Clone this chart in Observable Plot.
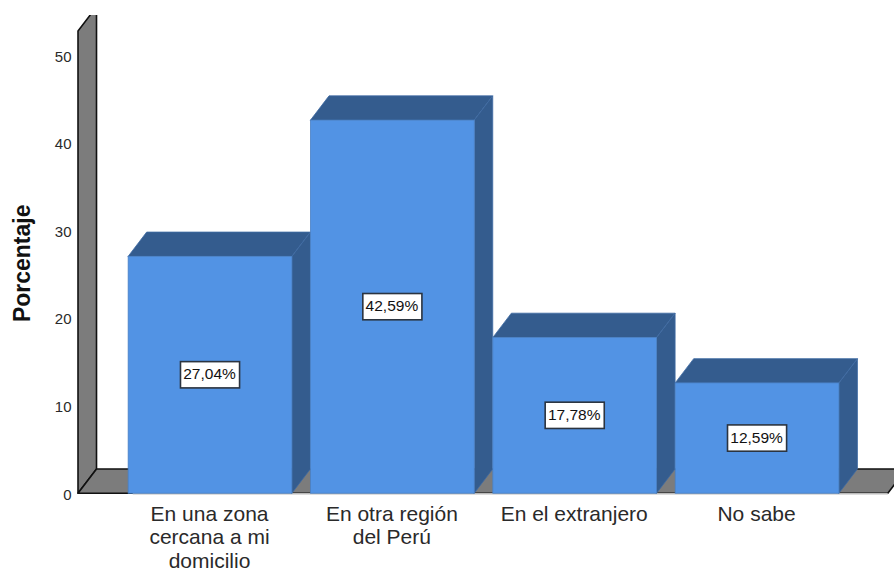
<!DOCTYPE html>
<html>
<head>
<meta charset="utf-8">
<script src="https://cdn.jsdelivr.net/npm/d3@7"></script>
<script src="https://cdn.jsdelivr.net/npm/@observablehq/plot@0.6"></script>
<style>html,body{margin:0;padding:0;background:#fff}svg{display:block}</style>
</head>
<body>
<div id="chart"></div>
<script>
const categories = ["En una zona\ncercana a mi\ndomicilio", "En otra región\ndel Perú", "En el extranjero", "No sabe"];
const values = [27.04, 42.59, 17.78, 12.59];
const valueLabels = ["27,04%", "42,59%", "17,78%", "12,59%"];
const yTicks = [0, 10, 20, 30, 40, 50];

const bars = categories.map((c, i) => ({c, i, v: values[i], label: valueLabels[i]}));

const depthX = 0.1015, depthY = 2.77, half = 0.449;
const wallX = -0.724, wallTop = 52.76, floorEnd = 3.717;
const front = "#5293e4", shade = "#345c8e", grey = "#7c7c7c", ink = "#2a2a2a";

// Each parallelogram is two stations along its sheared edge
const topFace = bars.flatMap(d => [
  {i: d.i, y: d.v, x1: d.i - half, x2: d.i + half},
  {i: d.i, y: d.v + depthY, x1: d.i - half + depthX, x2: d.i + half + depthX}
]);
const sideFace = bars.flatMap(d => [
  {i: d.i, x: d.i + half, y1: 0, y2: d.v},
  {i: d.i, x: d.i + half + depthX, y1: depthY, y2: d.v + depthY}
]);
const wall = [
  {x: wallX, y1: 0, y2: wallTop},
  {x: wallX + depthX, y1: depthY, y2: wallTop + depthY}
];
const floor = [
  {y: 0, x1: wallX, x2: floorEnd},
  {y: depthY, x1: wallX + depthX, x2: floorEnd + depthX}
];

const plot = Plot.plot({
  width: 894,
  height: 571,
  marginLeft: 76,
  marginRight: 0,
  marginTop: 15,
  marginBottom: 75.8,
  style: {background: "#fff", fontFamily: "'Liberation Sans', Arial, sans-serif"},
  x: {domain: [-0.735, 3.751], axis: null},
  y: {domain: [-0.228, 54.59], axis: null},
  marks: [
    Plot.areaY(wall, {x: "x", y1: "y1", y2: "y2", fill: grey, stroke: "#111", strokeWidth: 1.6, clip: true}),
    Plot.areaX(floor, {y: "y", x1: "x1", x2: "x2", fill: grey, stroke: "#111", strokeWidth: 1.6, clip: true}),
    Plot.ruleY([0], {stroke: "#bbb", strokeWidth: 1.5, x1: wallX + 0.3, x2: floorEnd}),
    Plot.areaX(topFace, {y: "y", x1: "x1", x2: "x2", z: "i", fill: shade, stroke: "#3f6ba3", strokeWidth: 0.8}),
    Plot.areaY(sideFace, {x: "x", y1: "y1", y2: "y2", z: "i", fill: shade, stroke: "#3f6ba3", strokeWidth: 0.8}),
    Plot.rectY(bars, {x1: d => d.i - half, x2: d => d.i + half, y1: 0, y2: "v", fill: front, stroke: "#4a80c4", strokeWidth: 0.8}),
    Plot.rect(bars, {x1: d => d.i - 0.162, x2: d => d.i + 0.162, y1: d => d.v / 2 - 1.5, y2: d => d.v / 2 + 1.5, fill: "#fff", stroke: "#2b3440", strokeWidth: 1.6}),
    Plot.text(bars, {x: "i", y: d => d.v / 2, text: "label", fontSize: 15.5, dx: -1, dy: -1, fill: "#111"}),
    Plot.text(yTicks, {x: -0.735, y: d => d, text: d => String(d), textAnchor: "end", dx: -5, dy: 1, fontSize: 15, fill: ink}),
    Plot.text(bars, {x: "i", y: -0.228, text: "c", lineAnchor: "top", dx: -1, dy: 8.5, fontSize: 21, lineHeight: 1.12, fill: ink}),
    Plot.text(["Porcentaje"], {x: -0.735, y: 26.3, text: d => d, rotate: -90, dx: -54, fontSize: 23, fontWeight: "bold", fill: "#111"})
  ]
});
document.getElementById("chart").append(plot);
</script>
</body>
</html>
